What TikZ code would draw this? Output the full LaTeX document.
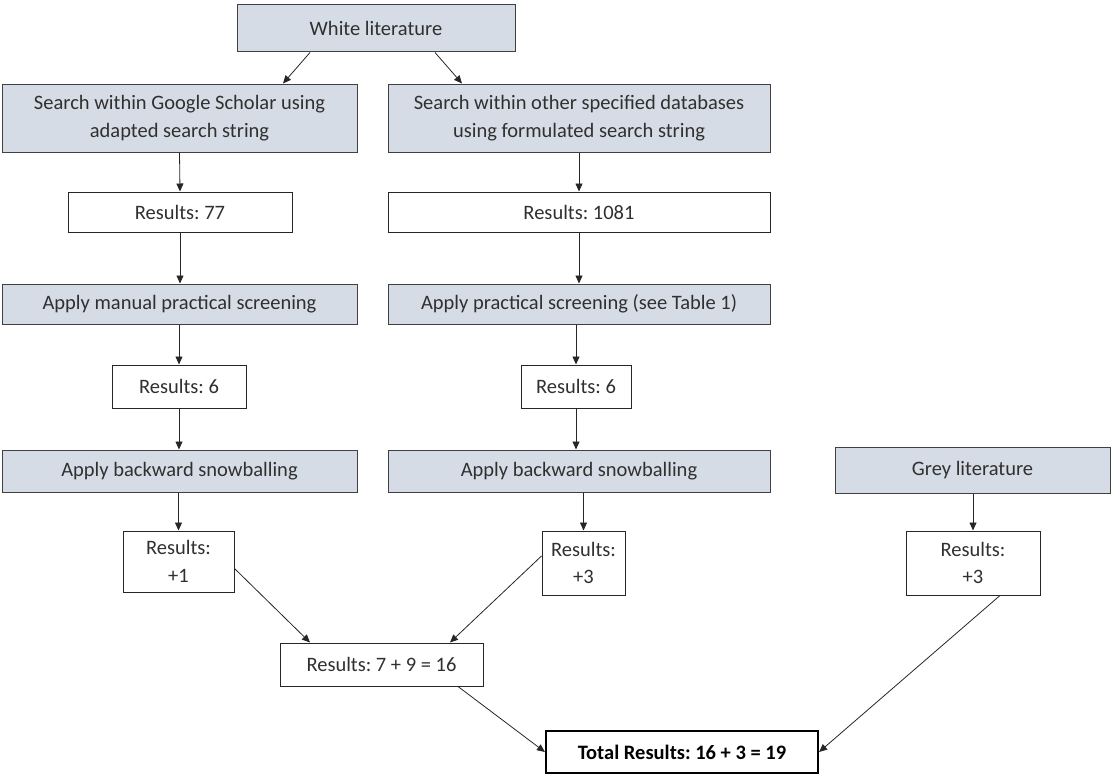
\documentclass[tikz,border=0pt]{standalone}
\usepackage{fontspec}
\setmainfont{Carlito}
\usetikzlibrary{arrows.meta}
\definecolor{boxfill}{HTML}{D6DCE5}
\definecolor{txt}{HTML}{303030}
\definecolor{edge}{HTML}{404040}
\frenchspacing
\begin{document}
\begin{tikzpicture}[x=1pt,y=-1pt,
  every node/.style={font=\fontsize{20.5}{27.5}\selectfont, text=txt, inner sep=0pt, align=center},
  stepbox/.style={draw=edge, line width=1pt, fill=boxfill},
  resbox/.style={draw=black!85, line width=1pt, fill=white},
  totalbox/.style={draw=black, line width=2.2pt, fill=white, font=\fontsize{20.5}{27.5}\selectfont\bfseries, text=black},
  conn/.style={draw=black!85, line width=0.8pt, -{Triangle[length=8pt,width=7pt]}}]
\useasboundingbox (0,0) rectangle (1113,776);

% grey-blue process steps
\node[stepbox, minimum width=278, minimum height=47] (white) at (376,28.5) {White literature};
\node[stepbox, minimum width=355, minimum height=68] (gs) at (179.5,118) {Search within Google Scholar using\\adapted search string};
\node[stepbox, minimum width=382, minimum height=68] (od) at (579,118) {Search within other specified databases\\using formulated search string};
\node[stepbox, minimum width=355, minimum height=40] (ms) at (179.5,304) {Apply manual practical screening};
\node[stepbox, minimum width=382, minimum height=40] (ps) at (579,304) {Apply practical screening (see Table 1)};
\node[stepbox, minimum width=355, minimum height=42] (bsa) at (179.5,471) {Apply backward snowballing};
\node[stepbox, minimum width=382, minimum height=42] (bsb) at (579,471) {Apply backward snowballing};
\node[stepbox, minimum width=275, minimum height=46] (grey) at (972.5,470) {Grey literature};

% white result boxes
\node[resbox, minimum width=224, minimum height=40] (r77) at (180,212) {Results: 77};
\node[resbox, minimum width=382, minimum height=40] (r1081) at (579,212) {Results: 1081};
\node[resbox, minimum width=134, minimum height=43] (r6a) at (179,386.5) {Results: 6};
\node[resbox, minimum width=110, minimum height=43] (r6b) at (576,386.5) {Results: 6};
\node[resbox, minimum width=111, minimum height=61] (p1) at (178.5,561.5) {Results:\\+1};
\node[resbox, minimum width=83, minimum height=64] (p3a) at (583.5,563) {Results:\\+3};
\node[resbox, minimum width=134, minimum height=64] (p3b) at (973,563) {Results:\\+3};
\node[resbox, minimum width=203, minimum height=43] (r16) at (381.5,664.5) {Results: 7 + 9 = 16};
\node[totalbox, minimum width=272, minimum height=42] (total) at (682,752) {Total Results: 16 + 3 = 19};

% connectors
\draw[conn] ([xshift=-66pt]white.south) -- ([xshift=103.5pt]gs.north);
\draw[conn] ([xshift=59pt]white.south) -- ([xshift=-117pt]od.north);
\draw[conn] (gs.south) -- (r77.north);
\draw[conn] (od.south) -- (r1081.north);
\draw[conn] (r77.south) -- (r77.south |- ms.north);
\draw[conn] (r1081.south) -- (r1081.south |- ps.north);
\draw[conn] (ms.south -| r6a.north) -- (r6a.north);
\draw[conn] (ps.south -| r6b.north) -- (r6b.north);
\draw[conn] (r6a.south) -- (r6a.south |- bsa.north);
\draw[conn] (r6b.south) -- (r6b.south |- bsb.north);
\draw[conn] (bsa.south -| p1.north) -- (p1.north);
\draw[conn] (bsb.south -| p3a.north) -- (p3a.north);
\draw[conn] (grey.south -| p3b.north) -- (p3b.north);
\draw[conn] ([yshift=-7pt]p1.east) -- ([xshift=-71.5pt]r16.north);
\draw[conn] ([yshift=7pt]p3a.west) -- ([xshift=68.5pt]r16.north);
\draw[conn] ([xshift=76.5pt]r16.south) -- (total.west);
\draw[conn] ([xshift=27pt]p3b.south) -- (total.east);
\end{tikzpicture}
\end{document}
